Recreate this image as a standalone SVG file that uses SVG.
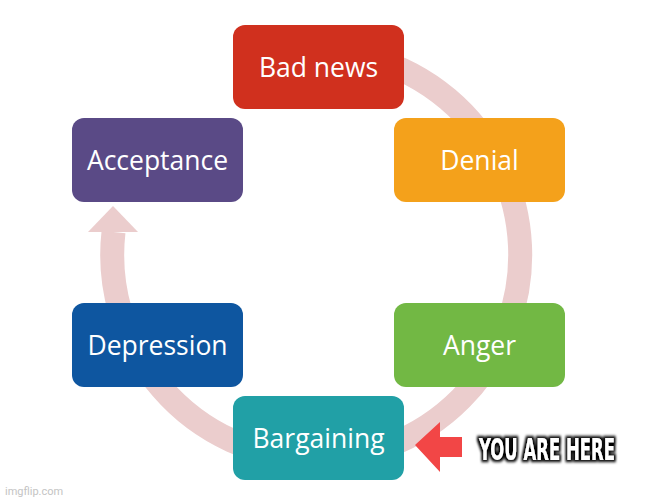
<svg xmlns="http://www.w3.org/2000/svg" width="666" height="500" viewBox="0 0 666 500">
<style>
.box{stroke:none}
.lbl{font-family:"Open Sans","Liberation Sans",sans-serif;font-size:26.5px;fill:#ffffff;text-anchor:middle;dominant-baseline:central}
.ring{fill:none;stroke:#ebcdcd;stroke-width:24}
</style>
<defs>
<filter id="halo" x="-20%" y="-60%" width="140%" height="220%">
<feMorphology in="SourceAlpha" operator="dilate" radius="1.6" result="d"/>
<feGaussianBlur in="d" stdDeviation="1.2" result="b"/>
<feFlood flood-color="#000000"/>
<feComposite in2="b" operator="in" result="s"/>
<feMerge><feMergeNode in="s"/><feMergeNode in="SourceGraphic"/></feMerge>
</filter>
</defs>
<rect width="666" height="500" fill="#ffffff"/>
<g id="connectors">
<path class="ring" d="M291,52.5 A204,204 0 1 1 113.5,232"/>
<polygon points="113,206 88,232 138,232" fill="#ebcdcd"/>
</g>
<g id="bad-news"><rect class="box" x="233" y="25" width="171" height="84" rx="12" fill="#d0301e"/><text class="lbl" x="318.5" y="67">Bad news</text></g>
<g id="denial"><rect class="box" x="394" y="118" width="171" height="84" rx="12" fill="#f4a11b"/><text class="lbl" x="479.5" y="160">Denial</text></g>
<g id="anger"><rect class="box" x="394" y="303" width="171" height="84" rx="12" fill="#72b844"/><text class="lbl" x="479.5" y="345">Anger</text></g>
<g id="bargaining"><rect class="box" x="233" y="396" width="171" height="84" rx="12" fill="#21a0a6"/><text class="lbl" x="318.5" y="438">Bargaining</text></g>
<g id="depression"><rect class="box" x="72" y="303" width="171" height="84" rx="12" fill="#0e56a0"/><text class="lbl" x="157.5" y="345">Depression</text></g>
<g id="acceptance"><rect class="box" x="72" y="118" width="171" height="84" rx="12" fill="#5a4a86"/><text class="lbl" x="157.5" y="160">Acceptance</text></g>
<g id="you-are-here">
<polygon points="415,445 440,422 440,437 462,437 462,457 440,457 440,472" fill="#f24646"/>
<g transform="translate(479,460) scale(1,1.4)" filter="url(#halo)">
<text x="0" y="0" textLength="136" lengthAdjust="spacingAndGlyphs" font-family="'DejaVu Sans Condensed','Liberation Sans Narrow',sans-serif" font-weight="bold" font-size="22" fill="#ffffff">YOU ARE HERE</text>
</g>
</g>
<text x="5" y="495" font-family="Roboto,'Liberation Sans',sans-serif" font-size="11" fill="#c4c4c4">imgflip.com</text>
</svg>
